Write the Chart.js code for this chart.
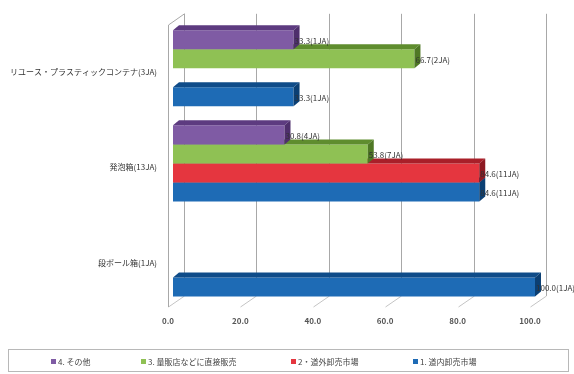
<!DOCTYPE html>
<html lang="ja">
<head>
<meta charset="utf-8">
<script src="https://cdn.jsdelivr.net/npm/chart.js@4/dist/chart.umd.min.js"></script>
<style>
  html, body { margin: 0; padding: 0; background: #fff; }
  #wrap { position: relative; width: 574px; height: 374px; }
  #legend {
    position: absolute; left: 8px; top: 349px; width: 561px; height: 23px;
    border: 1px solid #b8b8b8; box-sizing: border-box;
    font: 8px "Noto Sans CJK JP", sans-serif; color: #444;
  }
  #legend span.item { position: absolute; top: 6px; white-space: nowrap; }
  #legend i { display: inline-block; width: 5px; height: 5px; margin-right: 2px; vertical-align: 1px; }
</style>
</head>
<body>
<div id="wrap">
  <canvas id="chart" width="574" height="374"></canvas>
  <div id="legend"></div>
</div>
<script>
// 出荷先別の割合（%）と JA 数
const categories = ['リユース・プラスティックコンテナ(3JA)', '発泡箱(13JA)', '段ボール箱(1JA)']
const seriesNames = ['4. その他', '3. 量販店などに直接販売', '2・道外卸売市場', '1. 道内卸売市場']
const otherPct = [33.3, 30.8, 0]
const directPct = [66.7, 53.8, 0]
const outsidePct = [0, 84.6, 0]
const insidePct = [33.3, 84.6, 100.0]
const otherJA = [1, 4, 0]
const directJA = [2, 7, 0]
const outsideJA = [0, 11, 0]
const insideJA = [1, 11, 1]
const xTicks = [0, 20, 40, 60, 80, 100]

const frontColors = ['#7f5ba4', '#8fc154', '#e5363f', '#1e6bb5']
const topColors = ['#5d3b80', '#5f8d2e', '#a91f29', '#0f4c89']
const sideColors = ['#4e2f6c', '#4f7825', '#8d1922', '#0b3f73']
const legendLeft = [42, 132, 282, 404]

const seriesValues = [otherPct, directPct, outsidePct, insidePct]
const seriesJA = [otherJA, directJA, outsideJA, insideJA]

// bar depth and wall depth offsets
const BAR_DX = 6, BAR_DY = -5
const FRONT_DX = -5, FRONT_DY = 1
const BACK_DX = 11, BACK_DY = -10

const depth3d = {
  id: 'depth3d',
  beforeDatasetsDraw(chart) {
    const { ctx, chartArea } = chart
    const xs = chart.scales.x
    const top = chartArea.top - 7
    const backBottom = chartArea.bottom + BACK_DY
    const frontBottom = chartArea.bottom + FRONT_DY
    ctx.save()
    ctx.lineWidth = 1
    xTicks.forEach(v => {
      const px = Math.round(xs.getPixelForValue(v)) + 0.5
      ctx.strokeStyle = '#a8a8a8'
      ctx.beginPath()
      ctx.moveTo(px + BACK_DX, top)
      ctx.lineTo(px + BACK_DX, backBottom)
      ctx.stroke()
      ctx.strokeStyle = '#c4c4c4'
      ctx.beginPath()
      ctx.moveTo(px + BACK_DX, backBottom)
      ctx.lineTo(px + FRONT_DX, frontBottom)
      ctx.stroke()
    })
    // left side wall edge
    const x0 = Math.round(xs.getPixelForValue(0)) + 0.5
    ctx.strokeStyle = '#a8a8a8'
    ctx.beginPath()
    ctx.moveTo(x0 + BACK_DX, top)
    ctx.lineTo(x0 + FRONT_DX, top + (BACK_DX - FRONT_DX) * 0.7)
    ctx.lineTo(x0 + FRONT_DX, frontBottom)
    ctx.stroke()
    ctx.restore()
  },
  afterDatasetDraw(chart, args) {
    const { ctx } = chart
    const i = args.index
    const meta = args.meta
    ctx.save()
    meta.data.forEach((bar, j) => {
      if (!seriesValues[i][j]) return
      const { x, y, base, height } = bar.getProps(['x', 'y', 'base', 'height'], true)
      const t = y - height / 2
      const b = y + height / 2
      ctx.fillStyle = topColors[i]
      ctx.beginPath()
      ctx.moveTo(base, t)
      ctx.lineTo(x, t)
      ctx.lineTo(x + BAR_DX, t + BAR_DY)
      ctx.lineTo(base + BAR_DX, t + BAR_DY)
      ctx.closePath()
      ctx.fill()
      ctx.fillStyle = sideColors[i]
      ctx.beginPath()
      ctx.moveTo(x, t)
      ctx.lineTo(x + BAR_DX, t + BAR_DY)
      ctx.lineTo(x + BAR_DX, b + BAR_DY)
      ctx.lineTo(x, b)
      ctx.closePath()
      ctx.fill()
    })
    ctx.restore()
  },
  afterDatasetsDraw(chart) {
    const { ctx } = chart
    ctx.save()
    ctx.font = '8px "Noto Sans CJK JP", sans-serif'
    ctx.fillStyle = '#333'
    ctx.textBaseline = 'middle'
    ctx.textAlign = 'left'
    chart.data.datasets.forEach((ds, i) => {
      chart.getDatasetMeta(i).data.forEach((bar, j) => {
        const v = seriesValues[i][j]
        if (!v) return
        const { x, y } = bar.getProps(['x', 'y'], true)
        ctx.fillText(v.toFixed(1) + '(' + seriesJA[i][j] + 'JA)', x + 1, y + 1)
      })
    })
    ctx.restore()
  }
}

const chart = new Chart(document.getElementById('chart'), {
  type: 'bar',
  data: {
    labels: categories,
    datasets: seriesNames.map((name, i) => ({
      label: name,
      data: seriesValues[i],
      backgroundColor: frontColors[i],
      borderWidth: 0,
      categoryPercentage: 0.8,
      barPercentage: 1.0
    }))
  },
  options: {
    indexAxis: 'y',
    responsive: false,
    animation: false,
    layout: { padding: { top: 16, right: 39, bottom: 48, left: 0 } },
    plugins: {
      legend: { display: false },
      tooltip: { enabled: false }
    },
    scales: {
      x: {
        min: 0,
        max: 100,
        afterBuildTicks(scale) {
          scale.ticks = xTicks.map(v => ({ value: v }))
        },
        afterFit(scale) { scale.height = 20 },
        grid: { display: false, drawTicks: false },
        border: { display: false },
        ticks: {
          padding: 10,
          labelOffset: -5,
          color: '#555',
          font: { family: '"Noto Sans CJK JP", sans-serif', size: 8, weight: 'bold' },
          callback: v => Number(v).toFixed(1)
        }
      },
      y: {
        afterFit(scale) { scale.width = 173 },
        grid: { display: false, drawTicks: false },
        border: { display: false },
        ticks: {
          padding: 16,
          labelOffset: 4,
          color: '#333',
          font: { family: '"Noto Sans CJK JP", sans-serif', size: 8 }
        }
      }
    }
  },
  plugins: [depth3d]
})

// legend built from the same series
const legend = document.getElementById('legend')
seriesNames.forEach((name, i) => {
  const item = document.createElement('span')
  item.className = 'item'
  item.style.left = legendLeft[i] + 'px'
  item.innerHTML = '<i style="background:' + frontColors[i] + '"></i>' + name
  legend.appendChild(item)
})
</script>
</body>
</html>
